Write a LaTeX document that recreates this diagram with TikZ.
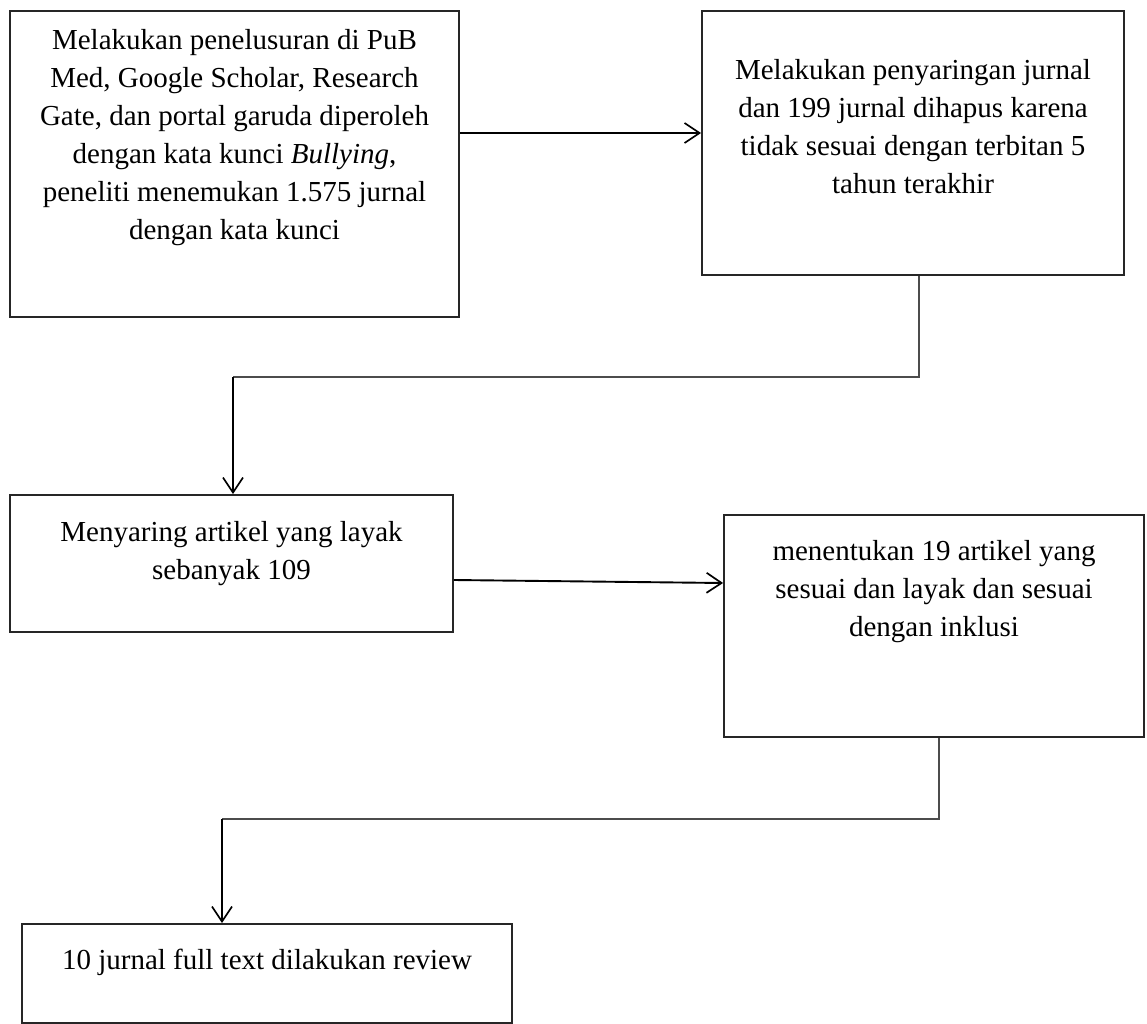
\documentclass[tikz,border=0pt]{standalone}
\usepackage{fontspec}
\setmainfont{Liberation Serif}
\usetikzlibrary{arrows.meta}
\begin{document}
\begin{tikzpicture}[x=1pt,y=-1pt,
  box/.style={draw=black!85, line width=1.8pt, inner sep=0pt},
  txt/.style={font=\fontsize{29}{38}\selectfont, align=center, inner sep=0pt},
  arr/.style={line width=1.9pt, -{Straight Barb[length=15pt,width=20pt,line width=1.7pt]}},
  thinline/.style={line width=1.1pt, draw=black!70}]
\useasboundingbox[fill=white] (0,0) rectangle (1147,1024);

% boxes
\node[box, minimum width=449pt, minimum height=306pt] (b1) at (234.5,164) {};
\node[box, minimum width=422pt, minimum height=264pt] (b2) at (913,143) {};
\node[box, minimum width=443pt, minimum height=137pt] (b3) at (231.5,563.5) {};
\node[box, minimum width=420pt, minimum height=222pt] (b4) at (934,626) {};
\node[box, minimum width=490pt, minimum height=99pt] (b5) at (267,973.5) {};

% texts
\node[txt] (t1) at (234.5,138) {Melakukan penelusuran di PuB\\Med, Google Scholar, Research\\Gate, dan portal garuda diperoleh\\dengan kata kunci \textit{Bullying},\\peneliti menemukan 1.575 jurnal\\dengan kata kunci};
\node[txt] (t2) at (913,127) {Melakukan penyaringan jurnal\\dan 199 jurnal dihapus karena\\tidak sesuai dengan terbitan 5\\tahun terakhir};
\node[txt] (t3) at (231.5,554) {Menyaring artikel yang layak\\sebanyak 109};
\node[txt] (t4) at (934,592) {menentukan 19 artikel yang\\sesuai dan layak dan sesuai\\dengan inklusi};
\node[txt] (t5) at (267,962) {10 jurnal full text dilakukan review};

% connector coordinates
\coordinate (c1) at (919,377);
\coordinate (c2) at (233,377);
\coordinate (c3) at (939,819);
\coordinate (c4) at (222,819);

% connectors
\draw[arr] ([yshift=31pt]b1.east) -- ([yshift=10pt]b2.west);
\draw[thinline] (c1 |- b2.south) -- (c1) -- (c2);
\draw[arr] (c2) -- (c2 |- b3.north);
\draw[arr] ([yshift=-16.5pt]b3.east) -- ([yshift=43pt]b4.west);
\draw[thinline] (c3 |- b4.south) -- (c3) -- (c4);
\draw[arr] (c4) -- (c4 |- b5.north);
\end{tikzpicture}
\end{document}
